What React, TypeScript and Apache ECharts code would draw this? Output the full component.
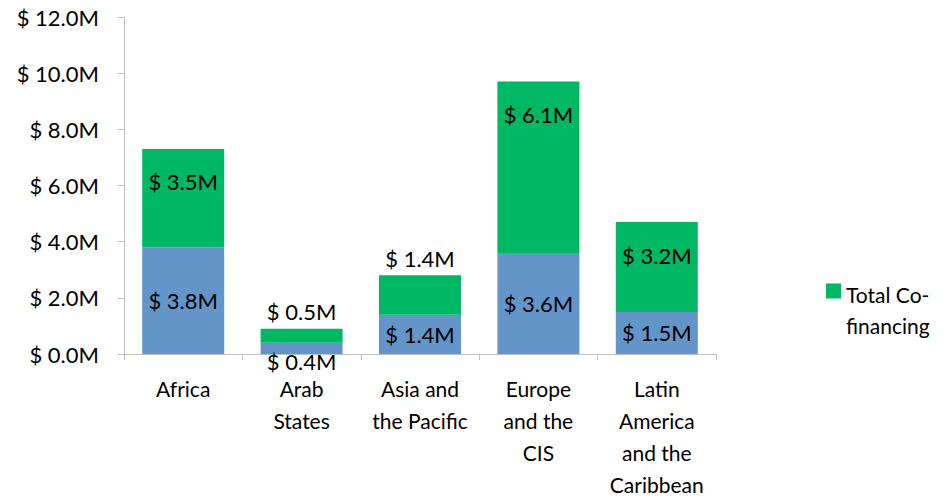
import React, { useEffect, useRef } from "react";
import * as echarts from "echarts";

const categories = [
  "Africa",
  "Arab\nStates",
  "Asia and\nthe Pacific",
  "Europe\nand the\nCIS",
  "Latin\nAmerica\nand the\nCaribbean",
];
const budgetValues = [3.8, 0.4, 1.4, 3.6, 1.5];
const cofinancingValues = [3.5, 0.5, 1.4, 6.1, 3.2];
const yTicks = [0, 2, 4, 6, 8, 10, 12];

const FONT = "Lato, 'Open Sans', sans-serif";
const fmt = (v: number) => "$ " + v.toFixed(1) + "M";

export default function App() {
  const ref = useRef<HTMLDivElement>(null);
  useEffect(() => {
    document.body.style.margin = "0";
    if (!ref.current) return;
    const chart = echarts.init(ref.current, undefined, { renderer: "svg" });
    const labelBase = {
      show: true,
      color: "#000",
      fontFamily: FONT,
      fontSize: 22,
      formatter: (p: any) => fmt(p.value),
    };
    chart.setOption({
      animation: false,
      backgroundColor: "#fff",
      grid: { left: 124, top: 17, right: 233, bottom: 145 },
      legend: {
        data: ["Total Co-financing"],
        left: 826,
        top: 279,
        padding: 0,
        orient: "vertical",
        itemWidth: 15,
        itemHeight: 53,
        icon: "path://M0,0H15V15H0Z M0,52.99H0.001V53H0Z",
        formatter: () => "Total Co-\nfinancing",
        textStyle: { fontFamily: FONT, fontSize: 21, color: "#000", lineHeight: 31 },
      },
      xAxis: {
        type: "category",
        data: categories,
        axisLine: { lineStyle: { color: "#bfbfbf", width: 1 } },
        axisTick: { show: true, length: 6, lineStyle: { color: "#bfbfbf" } },
        axisLabel: {
          interval: 0,
          color: "#000",
          fontFamily: FONT,
          fontSize: 21,
          lineHeight: 32,
          margin: 18,
        },
      },
      yAxis: {
        type: "value",
        min: 0,
        max: yTicks[yTicks.length - 1],
        interval: 2,
        splitLine: { show: false },
        axisLine: { show: true, lineStyle: { color: "#bfbfbf", width: 1 } },
        axisTick: { show: true, length: 6, lineStyle: { color: "#bfbfbf" } },
        axisLabel: {
          color: "#000",
          fontFamily: FONT,
          fontSize: 22,
          margin: 25,
          formatter: (v: number) => fmt(v),
        },
      },
      series: [
        {
          name: "Budget",
          type: "bar",
          stack: "total",
          barWidth: 82,
          itemStyle: { color: "#6495C9" },
          label: { ...labelBase, position: "inside" },
          data: budgetValues.map((v, i) =>
            i === 1
              ? { value: v, label: { position: "bottom", distance: -4 } }
              : { value: v }
          ),
        },
        {
          name: "Total Co-financing",
          type: "bar",
          stack: "total",
          barWidth: 82,
          itemStyle: { color: "#00B863" },
          label: { ...labelBase, position: "insideTop", distance: 22 },
          data: cofinancingValues.map((v, i) =>
            i === 1 || i === 2
              ? { value: v, label: { position: "top", distance: 6 } }
              : { value: v }
          ),
        },
      ],
    });
    return () => chart.dispose();
  }, []);
  return <div ref={ref} style={{ width: 949, height: 500 }} />;
}
